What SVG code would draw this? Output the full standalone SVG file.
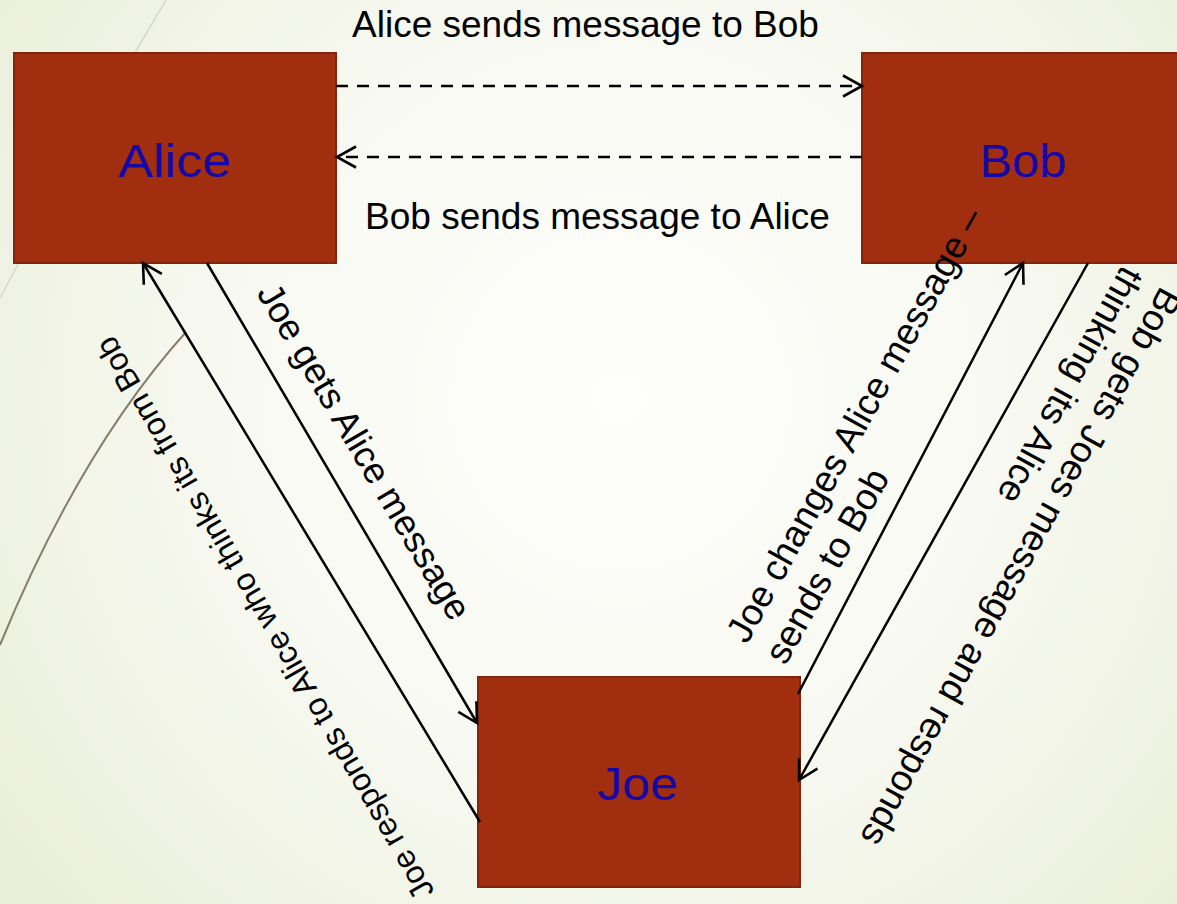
<svg xmlns="http://www.w3.org/2000/svg" width="1177" height="904" viewBox="0 0 1177 904">
  <defs>
    <radialGradient id="bg" cx="620" cy="400" r="760" gradientUnits="userSpaceOnUse">
      <stop offset="0" stop-color="#FEFEFC"/>
      <stop offset="0.5" stop-color="#F8F9F2"/>
      <stop offset="1" stop-color="#EAEFDA"/>
    </radialGradient>
    <marker id="arr" viewBox="-24 -14 28 28" markerWidth="28" markerHeight="28" refX="0" refY="0" orient="auto" markerUnits="userSpaceOnUse">
      <path d="M-19,-10.5 L0,0 L-19,10.5" fill="none" stroke="#000" stroke-width="2.6" stroke-dasharray="none"/>
    </marker>
    <style>
      .box { fill: #A22E10; stroke: #82250F; stroke-width: 2; }
      .name { font-family: "Liberation Sans", Arial, sans-serif; font-size: 47px; fill: #1408A8; text-anchor: middle; }
      .lbl { font-family: "Liberation Sans", Arial, sans-serif; fill: #000; }
      .conn { stroke: #000; stroke-width: 2.5; fill: none; marker-end: url(#arr); }
      .dash { stroke-dasharray: 12 9; stroke-width: 2.7; }
    </style>
  </defs>

  <rect x="0" y="0" width="1177" height="904" fill="url(#bg)"/>
  <g id="decor" fill="none">
    <path d="M166,0 Q100,110 0,298" stroke="#D6D8CB" stroke-width="1.5"/>
    <path d="M186,332 Q80,450 0,645" stroke="#877E6B" stroke-width="2"/>
  </g>

  <g id="alice">
    <rect class="box" x="14" y="53" width="322" height="210"/>
    <text class="name" x="175" y="177" textLength="113" lengthAdjust="spacingAndGlyphs">Alice</text>
  </g>
  <g id="bob">
    <rect class="box" x="862" y="53" width="320" height="210"/>
    <text class="name" x="1023" y="177" textLength="87" lengthAdjust="spacingAndGlyphs">Bob</text>
  </g>
  <g id="joe">
    <rect class="box" x="478" y="677" width="322" height="210"/>
    <text class="name" x="638" y="800" textLength="81" lengthAdjust="spacingAndGlyphs">Joe</text>
  </g>

  <g id="connectors">
    <path class="conn dash" d="M336,86 L862,86"/>
    <path class="conn dash" d="M862,157 L337,157"/>
    <path class="conn" d="M207,263 L477,723"/>
    <path class="conn" d="M480,822 L143,263"/>
    <path class="conn" d="M798,694 L1023,263"/>
    <path class="conn" d="M1088,263 L799,780"/>
  </g>

  <g id="labels" class="lbl">
    <text x="585.5" y="37" font-size="37" text-anchor="middle">Alice sends message to Bob</text>
    <text x="597.5" y="229" font-size="37" text-anchor="middle">Bob sends message to Alice</text>
    <text transform="translate(256,293) rotate(59.4)" font-size="36.5">Joe gets Alice message</text>
    <text transform="translate(274,613) rotate(-120)" font-size="32" text-anchor="middle">Joe responds to Alice who thinks its from Bob</text>
    <text transform="translate(747,645) rotate(-61)" font-size="37">
      <tspan x="0" y="0">Joe changes Alice message –</tspan>
      <tspan x="0" y="44">sends to Bob</tspan>
    </text>
    <text transform="translate(1161,285) rotate(118.6)" font-size="37">
      <tspan x="0" y="0">Bob gets Joes message and responds</tspan>
      <tspan x="0" y="44">thinking its Alice</tspan>
    </text>
  </g>
</svg>
